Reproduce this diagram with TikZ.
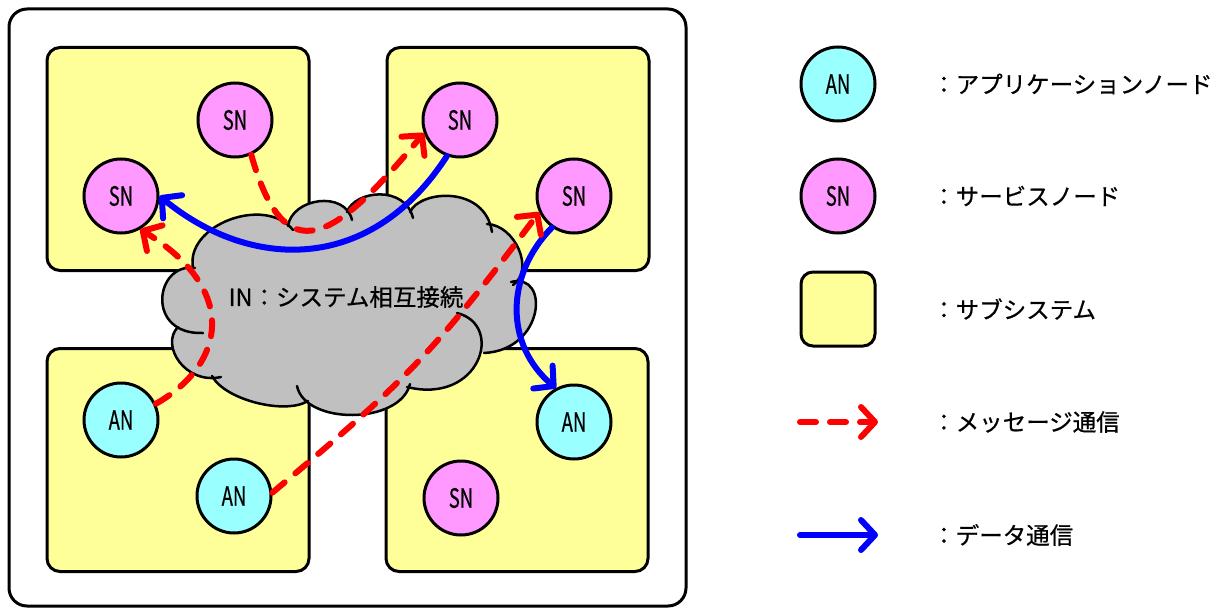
\documentclass[tikz,border=0pt]{standalone}
\usepackage{fontspec}
\usepackage{graphicx}
\setmainfont{Noto Sans CJK JP}[FakeBold=0.6]
\usetikzlibrary{arrows.meta}

\definecolor{anfill}{HTML}{99FFFF}
\definecolor{snfill}{HTML}{FF99FF}
\definecolor{subfill}{HTML}{FFFF99}
\definecolor{cloudfill}{HTML}{C0C0C0}

\newcommand\nodefont{\fontsize{26.5}{30}\selectfont}
\newcommand\labelfont{\fontsize{23.5}{28}\selectfont}
\newcommand\narrowtxt[1]{\scalebox{0.7}[1]{#1}}

\tikzset{
  outerframe/.style={draw=black, line width=3pt, rounded corners=18pt, fill=white},
  subsys/.style={draw=black, line width=3pt, rounded corners=13pt, fill=subfill,
    minimum width=262pt, minimum height=223pt, inner sep=0pt},
  anode/.style={circle, draw=black, line width=3pt, fill=anfill,
    minimum size=74pt, inner sep=0pt, font=\nodefont},
  snode/.style={anode, fill=snfill},
  legbox/.style={draw=black, line width=3pt, rounded corners=12pt, fill=subfill,
    minimum width=74pt, minimum height=74pt, inner sep=0pt},
  msg/.style={draw=red, line width=6pt, line cap=round, dash pattern=on 16pt off 14pt,
    -{Straight Barb[length=14pt,width=30pt,round]}},
  dat/.style={draw=blue, line width=6pt, line cap=round,
    -{Straight Barb[length=14pt,width=30pt,round]}},
  legtext/.style={anchor=west, font=\labelfont, inner sep=0pt},
  cloudbody/.style={fill=cloudfill, draw=cloudfill, line width=1.5pt, line join=round},
  cloudline/.style={draw=black, line width=2.5pt, line cap=round},
}

% puffs of the interconnect cloud: start / control / control / end (y measured downwards)
\def\cloudbumps{
  193/268/185/225/265/195/293/230,
  288/226/292/198/345/190/352/220,
  347/212/355/190/405/185/413/218,
  410/212/420/190/485/185/492/232,
  487/224/515/225/535/270/513/285,
  511/282/550/272/545/350/484/353,
  457/313/505/325/480/405/407/387,
  410/384/400/425/305/425/297/386,
  308/401/285/415/225/400/212/376,
  221/377/185/385/160/345/178/327,
  203/333/145/335/155/262/195/268}

\begin{document}
\begin{tikzpicture}[x=1pt,y=1pt]
\useasboundingbox (0,0) rectangle (1226,-610);

% whole system
\draw[outerframe] (9,-9) rectangle (686,-606);

% subsystems
\node[subsys] (sysA) at (178,-159) {};
\node[subsys] (sysB) at (518,-159) {};
\node[subsys] (sysC) at (178,-460) {};
\node[subsys] (sysD) at (517,-460) {};

% system interconnect cloud: core through the ends of every puff, then the puffs
\path[cloudbody] (193,-268) -- (293,-230) -- (288,-226) -- (352,-220) -- (347,-212)
  -- (413,-218) -- (410,-212) -- (492,-232) -- (487,-224) -- (513,-285) -- (511,-282)
  -- (484,-353) -- (457,-313) -- (407,-387) -- (410,-384) -- (297,-386) -- (308,-401)
  -- (212,-376) -- (221,-377) -- (178,-327) -- (203,-333) -- (195,-268) -- cycle;
\path[cloudbody] (260,-250) -- (460,-240) -- (490,-300) -- (420,-360) -- (250,-370) -- (200,-300) -- cycle;
\foreach \xa/\ya/\xb/\yb/\xc/\yc/\xd/\yd in \cloudbumps
  \path[cloudbody] (\xa,-\ya) .. controls (\xb,-\yb) and (\xc,-\yc) .. (\xd,-\yd) -- cycle;
\foreach \xa/\ya/\xb/\yb/\xc/\yc/\xd/\yd in \cloudbumps
  \draw[cloudline] (\xa,-\ya) .. controls (\xb,-\yb) and (\xc,-\yc) .. (\xd,-\yd);
\node[font=\labelfont, inner sep=0pt] (net) at (346,-297) {IN：システム相互接続};

% nodes
\node[snode] (sn1) at (235,-120) {\narrowtxt{SN}};
\node[snode] (sn2) at (121,-196) {\narrowtxt{SN}};
\node[snode] (sn3) at (460,-120) {\narrowtxt{SN}};
\node[snode] (sn4) at (574,-196) {\narrowtxt{SN}};
\node[anode] (an1) at (121,-420) {\narrowtxt{AN}};
\node[anode] (an2) at (234,-496) {\narrowtxt{AN}};
\node[anode] (an3) at (574,-422) {\narrowtxt{AN}};
\node[snode] (sn5) at (461,-498) {\narrowtxt{SN}};

% data transfers
\draw[dat] (sn3.250) .. controls +(-77,-119) and +(90,-74) .. (sn2.east);
\draw[dat] (sn4.235) .. controls +(-47,-48) and +(-51,43) .. (an3.118);

% message transfers
\draw[msg] (sn1.295) .. controls +(34,-120) and +(-89,-107) .. (sn3.200);
\draw[msg] (an1.25) .. controls +(69,39) and +(100,-61) .. (sn2.300);
\draw[msg] (an2.5) .. controls +(135,113) and +(-105,-140) .. (sn4.205);

% legend
\node[anode] (legan) at (838,-84) {\narrowtxt{AN}};
\node[snode] (legsn) at (838,-196) {\narrowtxt{SN}};
\node[legbox] (legsub) at (838,-309) {};
\coordinate (legm0) at (800,-422);
\coordinate (legm1) at (878,-422);
\draw[msg] (legm0) -- (legm1);
\coordinate (legd0) at (800,-535);
\coordinate (legd1) at (878,-535);
\draw[dat] (legd0) -- (legd1);

\node[legtext] (txtan) at (932,-84) {：アプリケーションノード};
\node[legtext] (txtsn) at (932,-196) {：サービスノード};
\node[legtext] (txtsub) at (932,-309) {：サブシステム};
\node[legtext] (txtmsg) at (932,-422) {：メッセージ通信};
\node[legtext] (txtdat) at (932,-535) {：データ通信};
\end{tikzpicture}
\end{document}
